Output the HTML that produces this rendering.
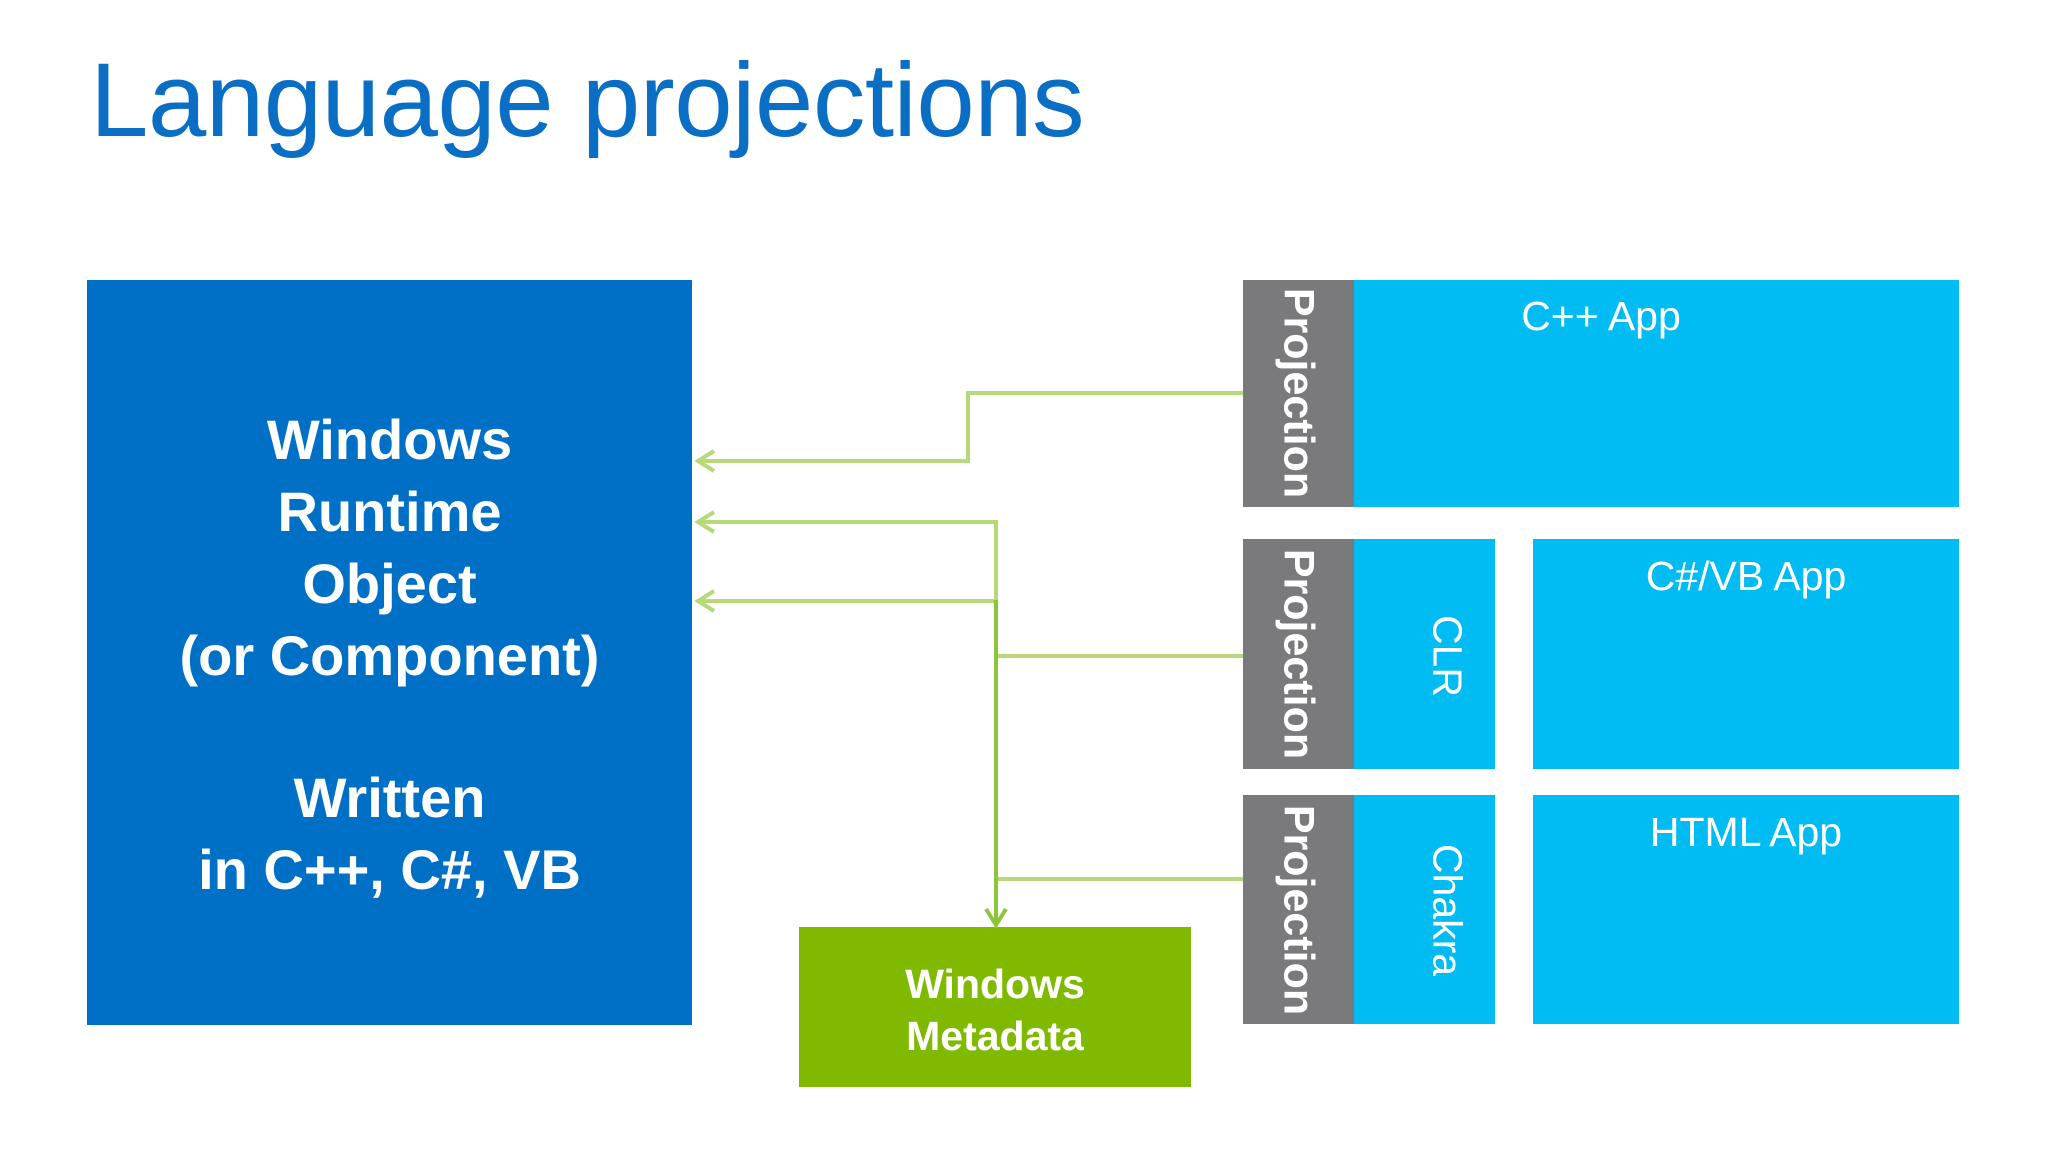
<!DOCTYPE html>
<html><head><meta charset="utf-8"><style>
html,body{margin:0;padding:0;background:#fff;}
body{width:2048px;height:1152px;position:relative;overflow:hidden;font-family:"Liberation Sans",sans-serif;}
.a{position:absolute;}
.title{left:90px;top:48px;font-size:105px;color:#0a6fc4;line-height:1;white-space:nowrap;letter-spacing:-0.5px;}
.blue{left:87px;top:280px;width:605px;height:745px;background:#0070c6;}
.bt{color:#fff;font-weight:bold;font-size:56px;text-align:center;width:605px;left:87px;line-height:72px;}
.green{left:799px;top:927px;width:392px;height:160px;background:#7fba00;color:#fff;font-weight:bold;font-size:41px;text-align:center;line-height:52px;box-sizing:border-box;padding-top:31px;}
.gray{background:#7a7a7c;width:111px;left:1243px;}
.cyan{background:#00bcf2;}
.vt{color:#fff;white-space:nowrap;transform:translate(-50%,-50%) rotate(90deg);line-height:1;}
.app{color:#fff;font-size:41px;text-align:center;line-height:1;}
</style></head><body>
<div class="a title">Language projections</div>
<div class="a blue"></div>
<div class="a bt" style="top:404px">Windows<br>Runtime<br>Object<br>(or Component)</div>
<div class="a bt" style="top:762px">Written<br>in C++, C#, VB</div>
<div class="a green">Windows<br>Metadata</div>

<div class="a gray" style="top:280px;height:227px"></div>
<div class="a cyan" style="left:1354px;top:280px;width:605px;height:227px"></div>
<div class="a gray" style="top:539px;height:230px"></div>
<div class="a cyan" style="left:1354px;top:539px;width:141px;height:230px"></div>
<div class="a cyan" style="left:1533px;top:539px;width:426px;height:230px"></div>
<div class="a gray" style="top:795px;height:229px"></div>
<div class="a cyan" style="left:1354px;top:795px;width:141px;height:229px"></div>
<div class="a cyan" style="left:1533px;top:795px;width:426px;height:229px"></div>

<div class="a vt" style="left:1298px;top:393px;font-size:43px;font-weight:bold">Projection</div>
<div class="a vt" style="left:1298px;top:654px;font-size:43px;font-weight:bold">Projection</div>
<div class="a vt" style="left:1298px;top:910px;font-size:43px;font-weight:bold">Projection</div>
<div class="a vt" style="left:1447px;top:656px;font-size:41px">CLR</div>
<div class="a vt" style="left:1447px;top:910px;font-size:41px">Chakra</div>

<div class="a app" style="left:1354px;width:494px;top:296px">C++ App</div>
<div class="a app" style="left:1533px;width:426px;top:556px">C#/VB App</div>
<div class="a app" style="left:1533px;width:426px;top:812px">HTML App</div>

<svg class="a" style="left:0;top:0" width="2048" height="1152">
<g fill="none" stroke="#b7d97c" stroke-width="4">
<polyline points="1243,393 968,393 968,461 698,461"/>
<polyline points="698,522 996,522 996,600"/>
<line x1="698" y1="601" x2="996" y2="601"/>
<line x1="1243" y1="656" x2="996" y2="656"/>
<line x1="1243" y1="879" x2="996" y2="879"/>
<polyline points="714,451 698,461 714,471"/>
<polyline points="714,512 698,522 714,532"/>
<polyline points="714,591 698,601 714,611"/>
</g>
<g fill="none" stroke="#8cc43a" stroke-width="4">
<line x1="996" y1="600" x2="996" y2="925"/>
<polyline points="986,909 996,925 1006,909"/>
</g>
</svg>
</body></html>
